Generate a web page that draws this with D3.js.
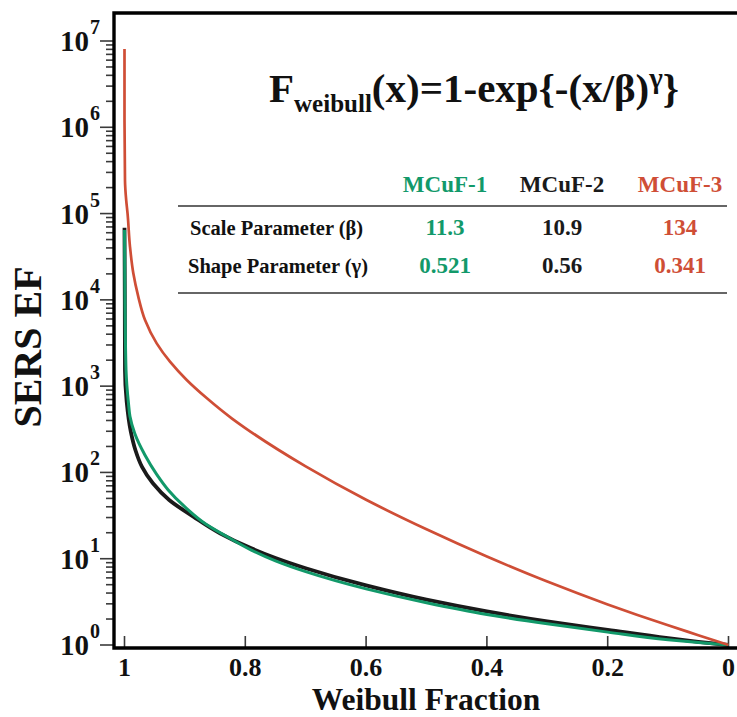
<!DOCTYPE html>
<html>
<head>
<meta charset="utf-8">
<script src="https://cdn.jsdelivr.net/npm/d3@7"></script>
<style>
  html, body { margin: 0; padding: 0; background: #fff; }
  svg { display: block; }
  text { font-family: "Liberation Serif", "Times New Roman", serif; font-weight: bold; }
</style>
</head>
<body>
<svg id="chart" width="737" height="717"></svg>
<script>
// Weibull fraction vs SERS enhancement factor, as [fraction, EF]
const mcuf1 = [
  [1.0, 64400], [0.9992, 10000], [0.9975, 1550], [0.9934, 631], [0.991, 447],
  [0.983, 282], [0.966, 158], [0.947, 95.5], [0.928, 63.1], [0.90, 39.8],
  [0.865, 25.1], [0.83, 18.0], [0.79, 12.6], [0.75, 9.44], [0.7, 7.08],
  [0.6, 4.47], [0.5, 3.09], [0.4, 2.26], [0.3, 1.76], [0.2, 1.41],
  [0.1, 1.15], [0.05, 1.07], [0.0, 1.0]
];
const mcuf2 = [
  [1.0, 68400], [0.9995, 10000], [0.9992, 1550], [0.9964, 661], [0.9895, 295],
  [0.982, 182], [0.971, 116], [0.953, 74.8], [0.926, 47.9], [0.886, 30.7],
  [0.842, 19.7], [0.79, 13.2], [0.75, 10.2], [0.7, 7.76], [0.6, 4.90],
  [0.5, 3.35], [0.4, 2.45], [0.3, 1.88], [0.2, 1.50], [0.1, 1.20],
  [0.05, 1.09], [0.0, 1.0]
];
const mcuf3 = [
  [1.0, 8060000], [1.0, 1210000], [0.9992, 244000], [0.9972, 143000], [0.995, 101000],
  [0.9909, 41200], [0.9854, 20300], [0.9772, 10900], [0.966, 5830], [0.9467, 3130],
  [0.9247, 1920], [0.897, 1180], [0.864, 728], [0.8225, 424], [0.8, 327],
  [0.7, 117.5], [0.6, 48.2], [0.5, 21.9], [0.4, 10.6], [0.3, 5.43],
  [0.2, 2.95], [0.1, 1.69], [0.05, 1.30], [0.0, 1.0]
];

const sampleNames = ["MCuF-1", "MCuF-2", "MCuF-3"];
const sampleColors = ["#12996a", "#1a1a1a", "#cf4e36"];
const scaleParams = ["11.3", "10.9", "134"];
const shapeParams = ["0.521", "0.56", "0.341"];
const rowLabels = ["Scale Parameter (\u03b2)", "Shape Parameter (\u03b3)"];

const xTicks = [1, 0.8, 0.6, 0.4, 0.2, 0];
const yExponents = [0, 1, 2, 3, 4, 5, 6, 7];

const svg = d3.select("#chart");

// plot frame (open to the right edge)
const frameLeft = 114, frameTop = 13, frameBottom = 648, frameRight = 760;

const x = d3.scaleLinear().domain([1, 0]).range([124.5, 728.5]);
const y = d3.scaleLog().domain([1, 1e7]).range([645, 41]);

// y ticks: majors at each decade, minors 2..9
const yMinor = [];
yExponents.slice(0, -1).forEach(e => {
  for (let m = 2; m <= 9; m++) yMinor.push(m * Math.pow(10, e));
});
svg.append("g").selectAll("line").data(yMinor).join("line")
  .attr("x1", frameLeft - 8).attr("x2", frameLeft)
  .attr("y1", d => y(d)).attr("y2", d => y(d))
  .attr("stroke", "#3a3a3a").attr("stroke-width", 1.6);
svg.append("g").selectAll("line").data(yExponents).join("line")
  .attr("x1", frameLeft - 14).attr("x2", frameLeft)
  .attr("y1", d => y(Math.pow(10, d))).attr("y2", d => y(Math.pow(10, d)))
  .attr("stroke", "#3a3a3a").attr("stroke-width", 1.6);

const yLab = svg.append("g").selectAll("g").data(yExponents).join("g");
yLab.append("text")
  .attr("x", 89).attr("y", d => y(Math.pow(10, d)) + 10)
  .attr("text-anchor", "end").attr("font-size", 29).attr("fill", "#111")
  .text("10");
yLab.append("text")
  .attr("x", 90).attr("y", d => y(Math.pow(10, d)) - 7)
  .attr("text-anchor", "start").attr("font-size", 20).attr("fill", "#111")
  .text(d => d);

// x ticks point into the plot
svg.append("g").selectAll("line").data(xTicks).join("line")
  .attr("x1", d => x(d)).attr("x2", d => x(d))
  .attr("y1", frameBottom).attr("y2", frameBottom - 12)
  .attr("stroke", "#3a3a3a").attr("stroke-width", 1.6);
svg.append("g").selectAll("text").data(xTicks).join("text")
  .attr("x", d => x(d)).attr("y", 676)
  .attr("text-anchor", "middle").attr("font-size", 26).attr("fill", "#111")
  .text(d => d3.format("~g")(d));

// curves
const line = d3.line()
  .x(d => x(d[0])).y(d => y(d[1]))
  .curve(d3.curveMonotoneY);

const series = [
  { data: mcuf2, color: sampleColors[1], width: 3.8 },
  { data: mcuf1, color: sampleColors[0], width: 3 },
  { data: mcuf3, color: sampleColors[2], width: 2.7 }
];
svg.append("g").selectAll("path").data(series).join("path")
  .attr("d", d => line(d.data))
  .attr("fill", "none")
  .attr("stroke", d => d.color)
  .attr("stroke-width", d => d.width)
  .attr("stroke-linecap", "butt");

// frame
svg.append("path")
  .attr("d", `M${frameRight},${frameTop}H${frameLeft}V${frameBottom}H${frameRight}`)
  .attr("fill", "none").attr("stroke", "#000").attr("stroke-width", 3.4);

// axis titles
svg.append("text")
  .attr("transform", "translate(41,347) rotate(-90)")
  .attr("text-anchor", "middle").attr("font-size", 40).attr("fill", "#111")
  .text("SERS EF");
svg.append("text")
  .attr("x", 426).attr("y", 710)
  .attr("text-anchor", "middle").attr("font-size", 31.5).attr("fill", "#111")
  .text("Weibull Fraction");

// Weibull CDF formula
const title = svg.append("text").attr("x", 269).attr("y", 102).attr("fill", "#111");
title.append("tspan").attr("font-size", 41).text("F");
title.append("tspan").attr("font-size", 25).attr("dy", 10).text("weibull");
title.append("tspan").attr("font-size", 41).attr("dy", -10).text("(x)=1-exp{-(x/\u03b2)");
title.append("tspan").attr("font-size", 29).attr("dy", -14).text("\u03b3");
title.append("tspan").attr("font-size", 41).attr("dy", 14).text("}");

// parameter table
const colX = [445, 562, 680];
const table = svg.append("g");
table.append("g").selectAll("text").data(sampleNames).join("text")
  .attr("x", (d, i) => colX[i]).attr("y", 192)
  .attr("text-anchor", "middle").attr("font-size", 23)
  .attr("fill", (d, i) => sampleColors[i])
  .text(d => d);
table.append("g").selectAll("line").data([206, 293]).join("line")
  .attr("x1", 178).attr("x2", 727).attr("y1", d => d).attr("y2", d => d)
  .attr("stroke", "#333").attr("stroke-width", 1.5);
table.append("g").selectAll("text").data(rowLabels).join("text")
  .attr("x", (d, i) => i === 0 ? 190 : 188).attr("y", (d, i) => i === 0 ? 235 : 273)
  .attr("font-size", 20.5).attr("fill", "#111")
  .text(d => d);
[scaleParams, shapeParams].forEach((vals, r) => {
  table.append("g").selectAll("text").data(vals).join("text")
    .attr("x", (d, i) => colX[i]).attr("y", r === 0 ? 235 : 273)
    .attr("text-anchor", "middle").attr("font-size", 23)
    .attr("fill", (d, i) => sampleColors[i])
    .text(d => d);
});
</script>
</body>
</html>
